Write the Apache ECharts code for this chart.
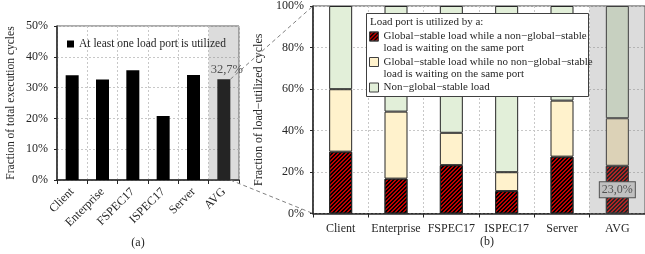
<!DOCTYPE html>
<html>
<head>
<meta charset="utf-8">
<script src="https://cdn.jsdelivr.net/npm/echarts@6/dist/echarts.min.js"></script>
<style>
html,body{margin:0;padding:0;background:#fff;}
#main{width:645px;height:254px;}
</style>
</head>
<body>
<div id="main"></div>
<script>
// data (percent)
var categories = ['Client', 'Enterprise', 'FSPEC17', 'ISPEC17', 'Server', 'AVG'];
var utilized = [34.0, 32.6, 35.6, 20.8, 34.1, 32.7];
var globalWaiting = [29.8, 16.8, 23.3, 10.8, 27.4, 23.0];
var globalNoWaiting = [30.1, 32.3, 15.6, 9.1, 27.0, 22.9];
var nonGlobal = [40.1, 50.9, 61.1, 80.1, 45.6, 54.1];
var yMaxA = 50, yStepA = 10;
var yMaxB = 100, yStepB = 20;

var nameA = 'At least one load port is utilized';
var namesB = [
	'Global\u2212stable load while a non\u2212global\u2212stable\nload is waiting on the same port',
	'Global\u2212stable load while no non\u2212global\u2212stable\nload is waiting on the same port',
	'Non\u2212global\u2212stable load'
];

var font = 'Liberation Serif';
var txt = '#262626';
var gridA = {left: 57, top: 26, width: 182, height: 154};
var gridB = {left: 313, top: 6, width: 336, height: 207.5};
var barA = 13, barB = 23;

function pct(v){
	return v.toFixed(1).replace('.', ',') + '%';
}

// legend text: a blank line above keeps the icon level with the first line
function legendText(name){
	var lines = name.split('\n');
	if(lines.length == 2){
		return '{b| }\n{t|' + lines[0] + '}\n{t|' + lines[1] + '}';
	}
	return '{b| }\n{t|' + name + '}\n{b| }';
}

var chart = echarts.init(document.getElementById('main'));

var splitStyle = {lineStyle: {color: '#c8c8c8', type: [2, 2], width: 1}};

var option = {
	animation: false,
	textStyle: {fontFamily: font, color: txt},
	grid: [
		{left: gridA.left, top: gridA.top, width: gridA.width, height: gridA.height,
			show: true, borderColor: '#595959', borderWidth: 1, backgroundColor: 'transparent'},
		{left: gridB.left, top: gridB.top, width: gridB.width, height: gridB.height,
			show: true, borderColor: '#404040', borderWidth: 1, backgroundColor: 'transparent'}
	],
	xAxis: [{
		type: 'category', gridIndex: 0, data: categories,
		axisLine: {lineStyle: {color: '#262626', width: 1.5}},
		axisTick: {show: true, length: 4, lineStyle: {color: '#262626'}},
		axisLabel: {rotate: 45, interval: 0, fontSize: 12, color: txt, fontFamily: font, margin: 10},
		splitLine: {show: true, interval: 0, lineStyle: splitStyle.lineStyle}
	}, {
		type: 'category', gridIndex: 1, data: categories,
		axisLine: {lineStyle: {color: '#262626', width: 1.5}},
		axisTick: {show: true, length: 4, lineStyle: {color: '#262626'}},
		axisLabel: {interval: 0, fontSize: 12, color: txt, fontFamily: font, margin: 9},
		splitLine: {show: true, interval: 0, lineStyle: splitStyle.lineStyle}
	}],
	yAxis: [{
		type: 'value', gridIndex: 0, min: 0, max: yMaxA, interval: yStepA,
		name: 'Fraction of total execution cycles', nameLocation: 'middle', nameGap: 40,
		nameTextStyle: {fontSize: 11.5, color: txt, fontFamily: font},
		axisLine: {show: true, lineStyle: {color: '#262626', width: 1.5}},
		axisTick: {show: true, length: 3, lineStyle: {color: '#262626'}},
		axisLabel: {formatter: '{value}%', fontSize: 12, color: txt, fontFamily: font, margin: 9},
		splitLine: splitStyle
	}, {
		type: 'value', gridIndex: 1, min: 0, max: yMaxB, interval: yStepB,
		name: 'Fraction of load\u2212utilized cycles', nameLocation: 'middle', nameGap: 40,
		nameTextStyle: {fontSize: 12, color: txt, fontFamily: font},
		axisLine: {show: true, lineStyle: {color: '#262626', width: 1.5}},
		axisTick: {show: true, length: 3, lineStyle: {color: '#262626'}},
		axisLabel: {formatter: '{value}%', fontSize: 12, color: txt, fontFamily: font, margin: 9},
		splitLine: splitStyle
	}],
	legend: [{
		data: [nameA], left: 67, top: 38, padding: 0,
		icon: 'rect', itemWidth: 7, itemHeight: 7,
		textStyle: {fontSize: 11.5, color: txt, fontFamily: font}
	}, {
		data: namesB,
		orient: 'vertical', left: 369, top: 19, padding: 0, itemGap: -9.5,
		icon: 'rect', itemWidth: 9, itemHeight: 9, z: 6,
		itemStyle: {borderColor: '#404040', borderWidth: 1},
		formatter: legendText,
		textStyle: {
			fontSize: 11, color: txt, fontFamily: font,
			rich: {
				t: {fontSize: 11, lineHeight: 12, color: txt, fontFamily: font},
				b: {fontSize: 11, lineHeight: 12}
			}
		}
	}],
	series: [{
		name: nameA, type: 'bar', xAxisIndex: 0, yAxisIndex: 0, barWidth: barA,
		itemStyle: {color: '#000'},
		data: utilized.map(function(v, i){
			if(i == utilized.length - 1){
				return {value: v, label: {show: true, position: 'top', offset: [3, 2],
					formatter: function(p){ return pct(p.value); },
					fontSize: 12.5, color: '#404040', fontFamily: font}};
			}
			return v;
		})
	}, {
		name: namesB[0], type: 'bar', stack: 'b', xAxisIndex: 1, yAxisIndex: 1, barWidth: barB,
		itemStyle: {
			color: '#c00000', borderColor: '#262626', borderWidth: 1,
			// "///" hatching: 4x4 pixel tile, two black pixels per row
			decal: {
				symbol: 'path://M0,0h2v1h-2Z M0,1h1v1h-1Z M3,1h1v1h-1Z M2,2h2v1h-2Z M1,3h2v1h-2Z',
				symbolSize: 1, symbolKeepAspect: false,
				dashArrayX: [4, 0], dashArrayY: [4, 0], rotation: 0,
				color: '#000'
			}
		},
		data: globalWaiting.map(function(v, i){
			if(i == globalWaiting.length - 1){
				return {value: v, label: {show: true, position: 'inside',
					formatter: function(p){ return pct(p.value); },
					fontSize: 12, color: '#404040', fontFamily: font,
					backgroundColor: '#d9d9d9', borderColor: '#404040', borderWidth: 1, padding: [2, 2, 1, 2]}};
			}
			return v;
		})
	}, {
		name: namesB[1], type: 'bar', stack: 'b', xAxisIndex: 1, yAxisIndex: 1, barWidth: barB,
		itemStyle: {color: '#fff2cc', borderColor: '#262626', borderWidth: 1},
		data: globalNoWaiting
	}, {
		name: namesB[2], type: 'bar', stack: 'b', xAxisIndex: 1, yAxisIndex: 1, barWidth: barB,
		itemStyle: {color: '#e2efd9', borderColor: '#262626', borderWidth: 1},
		data: nonGlobal
	}]
};
chart.setOption(option);

// shaded AVG column, legend frame, connector lines and captions
var last = categories[categories.length - 1];
var bandA = gridA.width / categories.length;
var bandB = gridB.width / categories.length;
var avgXA = chart.convertToPixel({xAxisIndex: 0}, last);
var avgXB = chart.convertToPixel({xAxisIndex: 1}, last);
var topA = chart.convertToPixel({yAxisIndex: 0}, utilized[utilized.length - 1]);
var zeroA = chart.convertToPixel({yAxisIndex: 0}, 0);
var topB = chart.convertToPixel({yAxisIndex: 1}, yMaxB);
var zeroB = chart.convertToPixel({yAxisIndex: 1}, 0);
var shade = 'rgba(128,128,128,0.28)';
var dash = {stroke: '#808080', lineWidth: 1, lineDash: [4, 3]};

chart.setOption({
	graphic: [
		{type: 'rect', z: 3, silent: true,
			shape: {x: avgXA - bandA / 2, y: gridA.top, width: bandA, height: gridA.height},
			style: {fill: shade}},
		{type: 'rect', z: 3, silent: true,
			shape: {x: avgXB - bandB / 2, y: gridB.top, width: bandB, height: gridB.height},
			style: {fill: shade}},
		{type: 'rect', z: 5, silent: true,
			shape: {x: 366.5, y: 13.5, width: 222, height: 83},
			style: {fill: '#fff', stroke: '#404040', lineWidth: 1}},
		{type: 'text', z: 6, silent: true, x: 370, y: 22,
			style: {text: 'Load port is utilized by a:', font: '11px "Liberation Serif"', fill: txt, verticalAlign: 'middle'}},
		{type: 'line', z: 4, silent: true,
			shape: {x1: avgXA + barA / 2, y1: topA, x2: gridB.left, y2: topB}, style: dash},
		{type: 'line', z: 4, silent: true,
			shape: {x1: avgXA + barA / 2, y1: zeroA, x2: gridB.left, y2: zeroB}, style: dash},
		{type: 'text', x: 138, y: 243,
			style: {text: '(a)', font: '12px "Liberation Serif"', fill: txt, align: 'center', verticalAlign: 'middle'}},
		{type: 'text', x: 487, y: 242,
			style: {text: '(b)', font: '12px "Liberation Serif"', fill: txt, align: 'center', verticalAlign: 'middle'}}
	]
});
</script>
</body>
</html>
